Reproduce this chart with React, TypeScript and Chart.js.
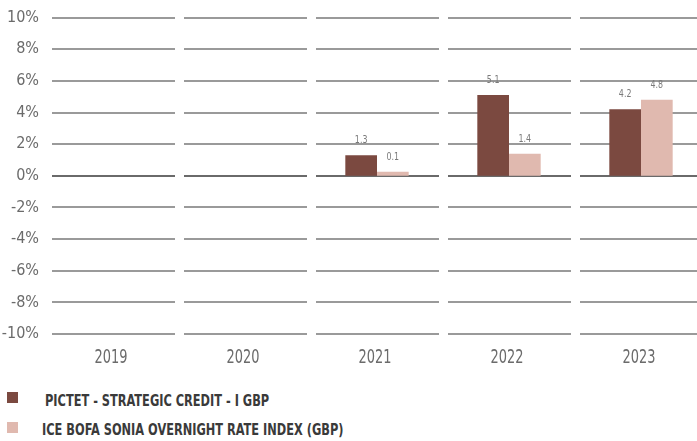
import React, { useEffect, useRef } from "react";
import { Chart, registerables } from "chart.js";

Chart.register(...registerables);

const categories = ["2019", "2020", "2021", "2022", "2023"];
const fundName = "PICTET - STRATEGIC CREDIT - I GBP";
const indexName = "ICE BOFA SONIA OVERNIGHT RATE INDEX (GBP)";
const fundValues: (number | null)[] = [null, null, 1.3, 5.1, 4.2];
const indexValues: (number | null)[] = [null, null, 0.1, 1.4, 4.8];
const yTicks = [-10, -8, -6, -4, -2, 0, 2, 4, 6, 8, 10];

const FONT = '"Liberation Sans Narrow", "DejaVu Sans Condensed", "Roboto Condensed", sans-serif';
const DARK = "#7b4940";
const LIGHT = "#e0b9af";

const segGrid = {
  id: "segGrid",
  beforeDatasetsDraw(chart: any) {
    const { ctx, scales } = chart;
    const x = scales.x;
    const y = scales.y;
    const w = (x.right - x.left) / categories.length;
    ctx.save();
    yTicks.forEach((v) => {
      const py = Math.round(y.getPixelForValue(v));
      ctx.strokeStyle = v === 0 ? "#6a6a6a" : "#9a9a9a";
      ctx.lineWidth = 2;
      categories.forEach((_, i) => {
        const cx = x.getPixelForValue(i);
        ctx.beginPath();
        ctx.moveTo(cx - w / 2 + 5, py);
        ctx.lineTo(cx + w / 2 - 4, py);
        ctx.stroke();
      });
    });
    ctx.restore();
  },
};

// x-axis category labels, drawn condensed like the reference's narrow face
const xLabels = {
  id: "xLabels",
  afterDraw(chart: any) {
    const { ctx, scales } = chart;
    const x = scales.x;
    ctx.save();
    ctx.font = `20px ${FONT}`;
    ctx.fillStyle = "#6b6b6b";
    ctx.textAlign = "center";
    ctx.textBaseline = "middle";
    categories.forEach((c, i) => {
      ctx.save();
      ctx.translate(x.getPixelForValue(i) - 2, x.top + 24);
      ctx.scale(0.72, 1);
      ctx.fillText(c, 0, 0);
      ctx.restore();
    });
    ctx.restore();
  },
};

const valueLabels = {
  id: "valueLabels",
  afterDatasetsDraw(chart: any) {
    const { ctx } = chart;
    ctx.save();
    ctx.font = `11px ${FONT}`;
    ctx.fillStyle = "#7a7a7a";
    ctx.textAlign = "center";
    ctx.textBaseline = "middle";
    chart.data.datasets.forEach((ds: any, di: number) => {
      const meta = chart.getDatasetMeta(di);
      meta.data.forEach((el: any, i: number) => {
        const v = ds.data[i];
        if (v === null || v === undefined) return;
        ctx.save();
        ctx.translate(el.x, el.y - 15);
        ctx.scale(0.8, 1);
        ctx.fillText(v.toFixed(1), 0, 0);
        ctx.restore();
      });
    });
    ctx.restore();
  },
};

export default function App() {
  const ref = useRef<HTMLCanvasElement | null>(null);
  useEffect(() => {
    if (!ref.current) return;
    const chart = new Chart(ref.current, {
      type: "bar",
      data: {
        labels: categories,
        datasets: [
          { label: fundName, data: fundValues, backgroundColor: DARK, minBarLength: 4 },
          { label: indexName, data: indexValues, backgroundColor: LIGHT, minBarLength: 4 },
        ],
      },
      options: {
        animation: false,
        responsive: false,
        layout: { padding: { top: 16, right: 13, bottom: 0, left: 0 } },
        datasets: { bar: { categoryPercentage: 0.48, barPercentage: 1 } },
        plugins: { legend: { display: false }, tooltip: { enabled: false } },
        scales: {
          x: {
            grid: { display: false, drawTicks: false },
            border: { display: false },
            ticks: { display: false },
            afterFit: (s: any) => {
              s.height = 46;
            },
          },
          y: {
            min: -10,
            max: 10,
            grid: { display: false, drawTicks: false },
            border: { display: false },
            afterBuildTicks: (s: any) => {
              s.ticks = yTicks.map((v) => ({ value: v }));
            },
            ticks: {
              color: "#6b6b6b",
              font: { family: FONT, size: 16 },
              padding: 8,
              callback: (v: any) => `${v}%`,
            },
            afterFit: (s: any) => {
              s.width = 47;
            },
          },
        },
      },
      plugins: [segGrid, valueLabels, xLabels],
    });
    return () => chart.destroy();
  }, []);

  const legendText: React.CSSProperties = {
    position: "absolute",
    fontFamily: FONT,
    fontWeight: "bold",
    fontSize: 16,
    color: "#3a3a3a",
    lineHeight: "16px",
    whiteSpace: "nowrap",
    transform: "scaleX(0.79)",
    transformOrigin: "left center",
  };

  return (
    <div style={{ position: "fixed", left: 0, top: 0, width: 697, height: 441, overflow: "hidden", background: "#fff" }}>
      <canvas ref={ref} width={720} height={380} style={{ position: "absolute", left: 0, top: 0 }} />
      <div style={{ position: "absolute", left: 7, top: 392, width: 11, height: 11, background: DARK }} />
      <div style={{ ...legendText, left: 45, top: 393 }}>{fundName}</div>
      <div style={{ position: "absolute", left: 7, top: 422, width: 11, height: 11, background: LIGHT }} />
      <div style={{ ...legendText, left: 42, top: 422 }}>{indexName}</div>
    </div>
  );
}
